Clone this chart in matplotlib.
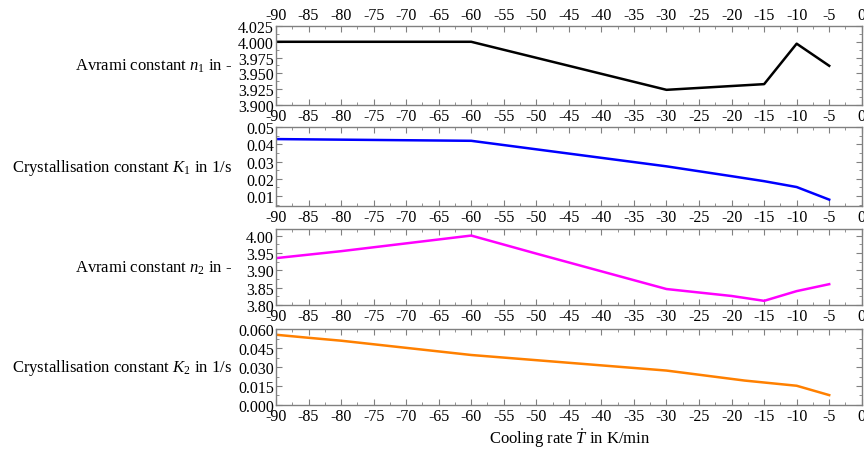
"""
Avrami fit parameters plotted against cooling rate, four stacked panels.
"""
import matplotlib
matplotlib.use("Agg")
import matplotlib.pyplot as plt
from matplotlib.ticker import MultipleLocator, FormatStrFormatter

plt.rcParams['font.family'] = ['Liberation Serif', 'DejaVu Serif']
plt.rcParams['mathtext.fontset'] = 'custom'
plt.rcParams['mathtext.rm'] = 'Liberation Serif'
plt.rcParams['mathtext.it'] = 'Liberation Serif:italic'
plt.rcParams['axes.unicode_minus'] = False

# cooling rates in K/min (one list per curve, kinks)
rate_n1 = [-90, -60, -30, -15, -10, -5]
n1 = [4.000, 4.000, 3.924, 3.933, 3.997, 3.962]

rate_k1 = [-90, -60, -30, -20, -15, -10, -5]
k1 = [0.0430, 0.0420, 0.0272, 0.0215, 0.0186, 0.0152, 0.0079]

rate_n2 = [-90, -80, -60, -50, -30, -20, -15, -10, -5]
n2 = [3.935, 3.955, 4.000, 3.948, 3.846, 3.826, 3.812, 3.840, 3.860]

rate_k2 = [-90, -85, -80, -60, -30, -18, -10, -5]
k2 = [0.0555, 0.0531, 0.0508, 0.0395, 0.0272, 0.0193, 0.0152, 0.0078]

labels = [
    r'Avrami constant $n_{\mathit{1}}$ in -',
    r'Crystallisation constant $K_{\mathit{1}}$ in 1/s',
    r'Avrami constant $n_{2}$ in -',
    r'Crystallisation constant $K_{2}$ in 1/s',
]
colors = ['black', '#0000ff', '#ff00ff', '#ff8000']

# (bottom, height) in figure fraction, ylim, major step, minor step, format
panels = [
    ((0.7655, 0.1748), (3.900, 4.025), 0.025, 0.0125, '%.3f'),
    ((0.5420, 0.1748), (0.0042, 0.050), 0.01, 0.005, '%.2f'),
    ((0.3230, 0.1690), (3.800, 4.020), 0.05, 0.025, '%.2f'),
    ((0.1018, 0.1680), (0.000, 0.060), 0.015, 0.0075, '%.3f'),
]
series = [(rate_n1, n1), (rate_k1, k1), (rate_n2, n2), (rate_k2, k2)]

fig = plt.figure(figsize=(8.64, 4.52), dpi=100)
frame_color = '#808080'

for i, ((pos, ylim, major, minor, fmt), (x, y), label, color) in enumerate(
        zip(panels, series, labels, colors)):
    ax = fig.add_axes([0.3194, pos[0], 0.678, pos[1]])
    ax.plot(x, y, color=color, lw=1.8)
    ax.set_xlim(-90, 0)
    ax.set_ylim(*ylim)
    ax.xaxis.set_major_locator(MultipleLocator(5))
    ax.xaxis.set_minor_locator(MultipleLocator(2.5))
    ax.yaxis.set_major_locator(MultipleLocator(major))
    ax.yaxis.set_minor_locator(MultipleLocator(minor))
    ax.yaxis.set_major_formatter(FormatStrFormatter(fmt))
    # only the top panel carries tick labels above its frame
    ax.tick_params(which='both', direction='in', top=True, right=True,
                   labeltop=(i == 0), labelbottom=True, color=frame_color,
                   labelsize=11.5)
    ax.tick_params(axis='x', pad=2)
    ax.tick_params(axis='y', pad=1.5)
    ax.tick_params(which='major', length=4, width=0.8)
    ax.tick_params(which='minor', length=2, width=0.6)
    for spine in ax.spines.values():
        spine.set_color(frame_color)
        spine.set_linewidth(1.0)
    ax.set_ylabel(label, rotation=0, ha='right', va='center', fontsize=12)
    ax.yaxis.set_label_coords(-0.075, 0.5)

fig.text(0.659, 0.03, r'Cooling rate $\dot{T}$ in K/min', ha='center',
         va='center', fontsize=12)

fig.savefig('out.png', dpi=100)
